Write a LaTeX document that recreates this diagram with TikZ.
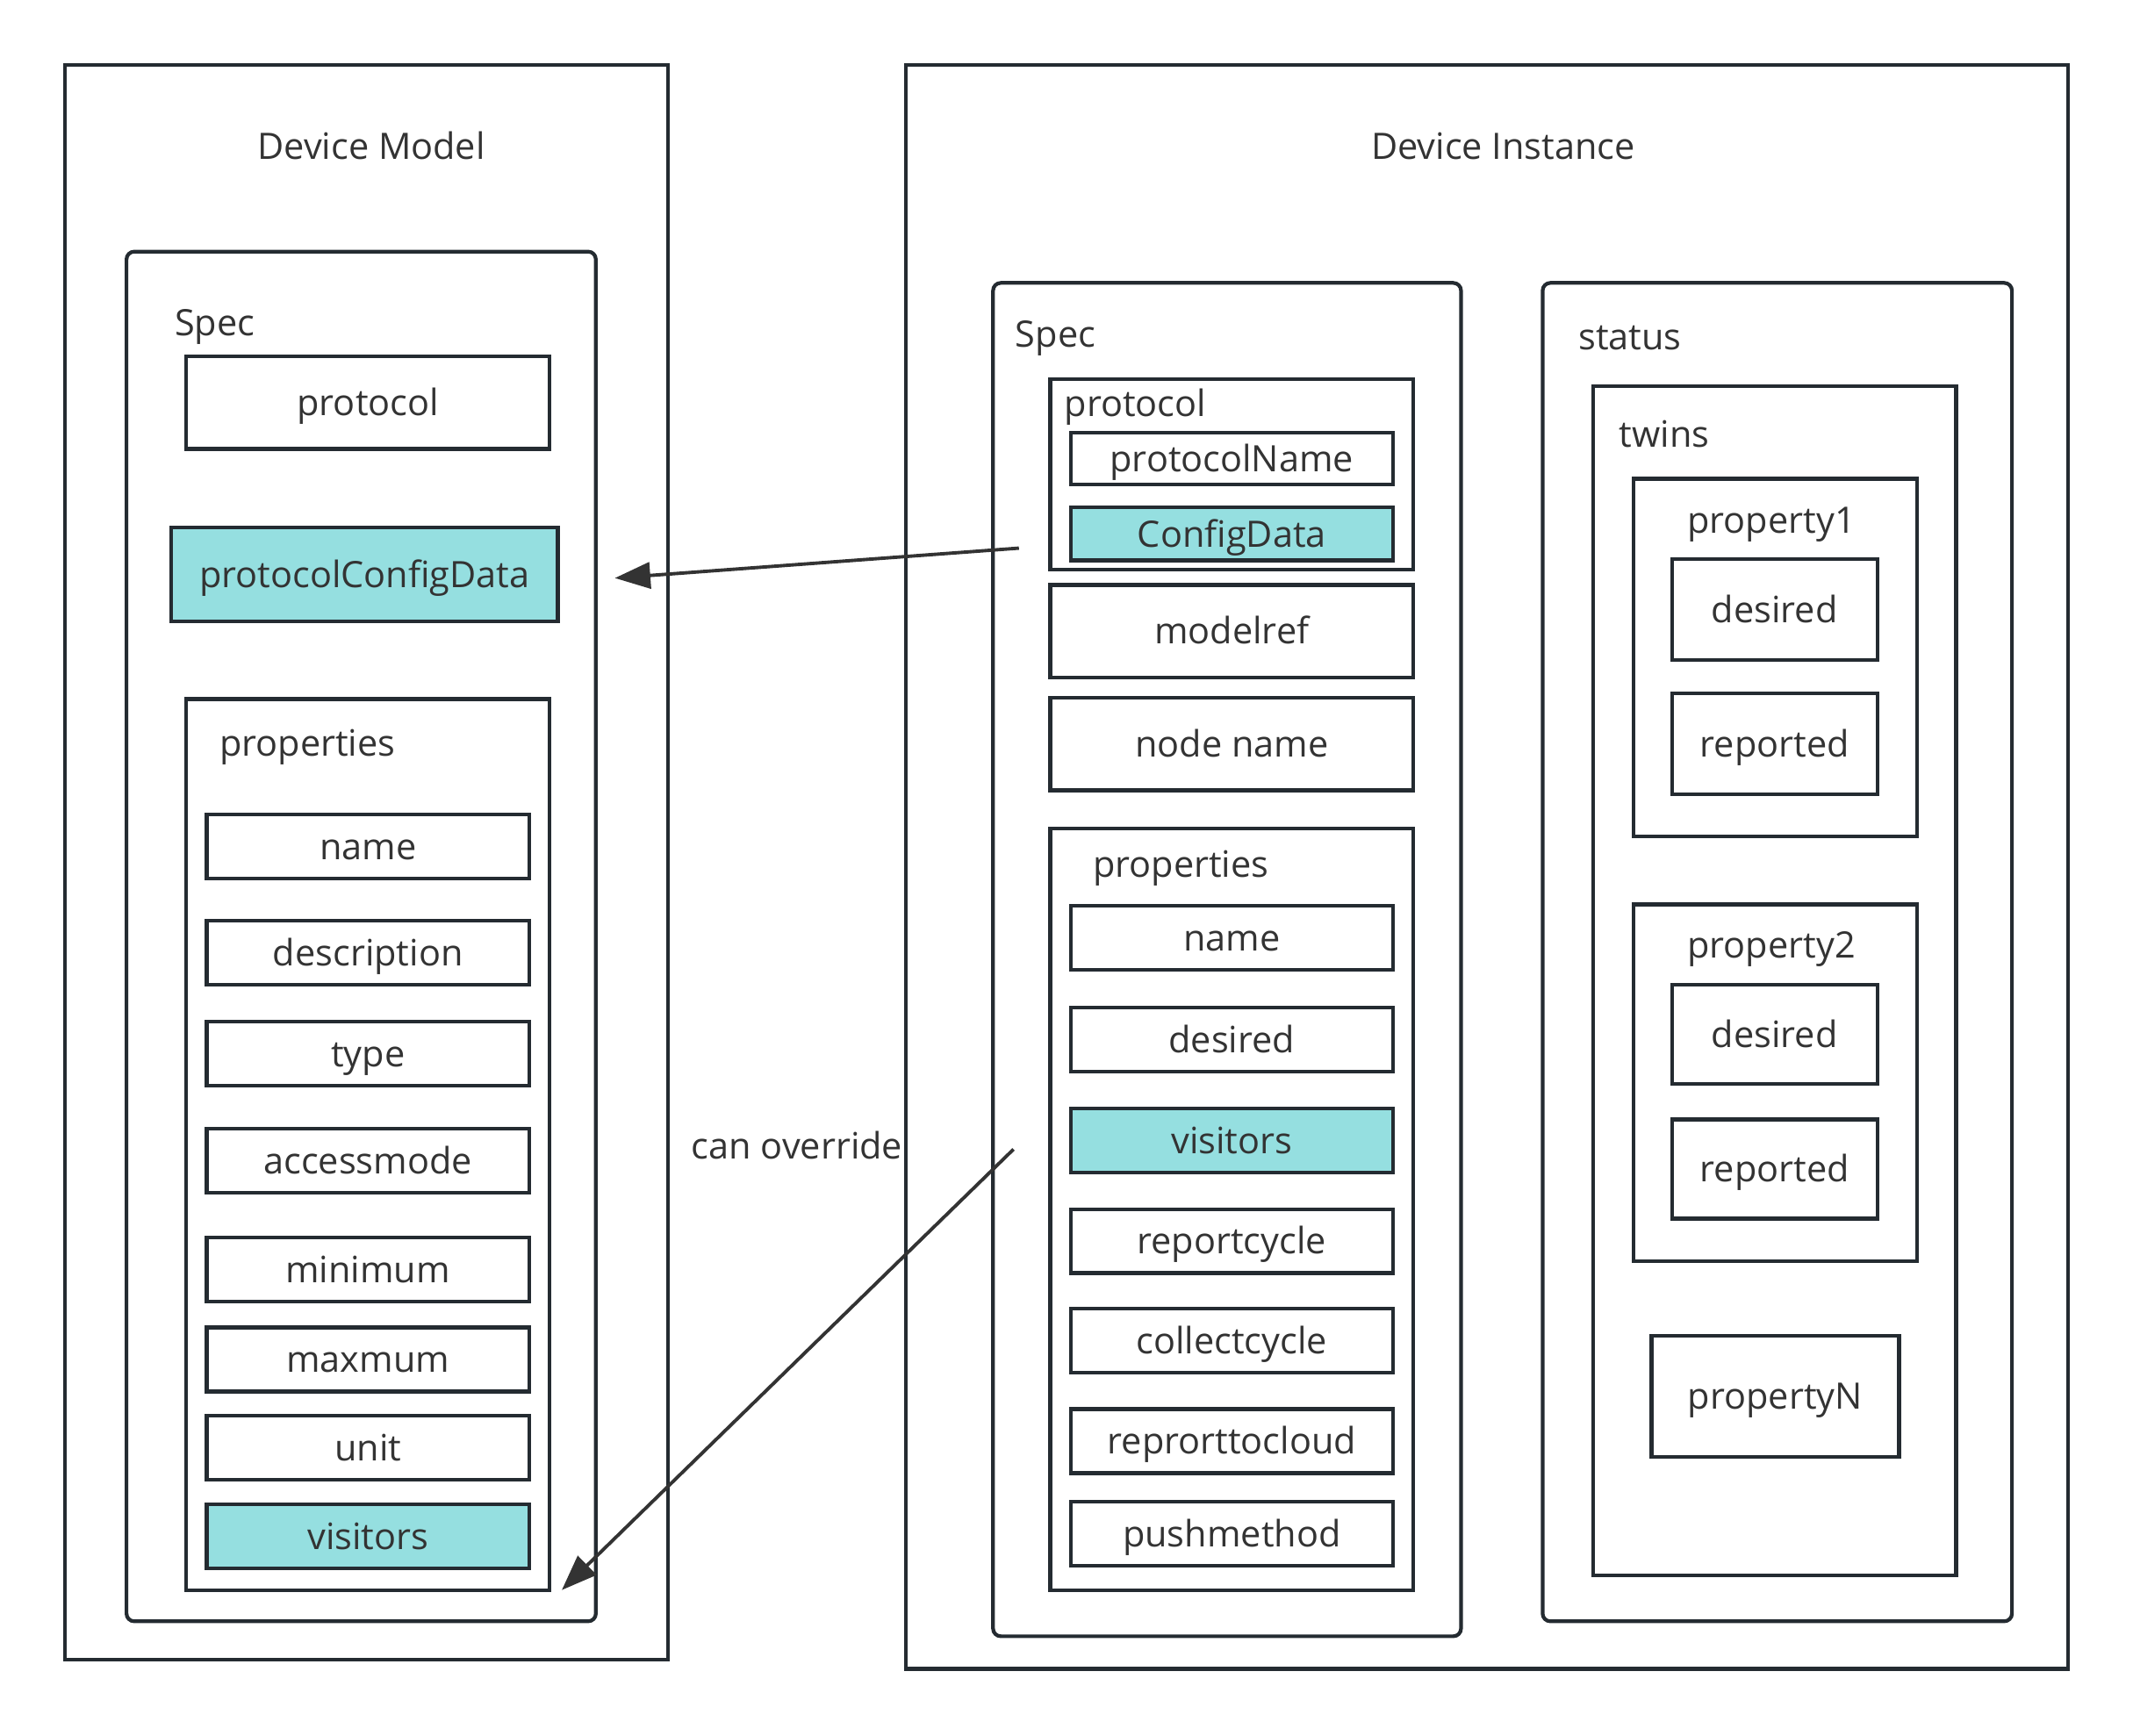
\documentclass[tikz,border=0pt]{standalone}
\usepackage{fontspec}
\setmainfont{Open Sans}
\usetikzlibrary{arrows.meta,fit}
\definecolor{edge}{HTML}{242B31}
\definecolor{cyanfill}{HTML}{95DFE0}
\definecolor{ink}{HTML}{333333}

\begin{document}
\begin{tikzpicture}[x=0.0155cm,y=-0.0155cm,
  every node/.style={font=\fontsize{11.8}{14}\selectfont, text=ink},
  frame/.style={draw=edge, line width=1.2pt, inner sep=0pt, outer sep=0pt},
  card/.style={frame, rounded corners=2.5pt},
  fldtxt/.style={inner sep=0pt, text height=0.95em, text depth=0.11em},
  fld/.style={frame, label={[fldtxt]center:#1}},
  tag/.style={anchor=base west, inner sep=0pt},
  ptr/.style={draw=ink, line width=1.1pt, -{Triangle[length=11.5pt,width=8.5pt]}}]
\useasboundingbox (0,0) rectangle (1568,1276);

%% device model
\node[frame, fit={(48,48)(491,1220)}] (model) {};
\node[anchor=base] (modelT) at (273,117) {Device Model};
\node[card, fit={(93,185)(438,1192)}] (mspec) {};
\node[tag] (mspecT) at (128,247) {Spec};
\node[fld=protocol, fit={(137,262)(404,330)}] (mproto) {};
\node[fld=protocolConfigData, fill=cyanfill, fit={(126,388)(410,457)}] (mcfg) {};
\node[frame, fit={(137,514)(404,1169)}] (mprops) {};
\node[tag] (mpropsT) at (161,556) {properties};
\foreach \nm/\ya/\fc [count=\i] in {name/599/white, description/677/white, type/751/white,
    accessmode/830/white, minimum/910/white, maxmum/976/white, unit/1041/white, visitors/1106/cyanfill}
  \node[fld=\nm, fill=\fc, fit={(152,\ya)(389,\ya+47)}] (mf\i) {};

%% device instance
\node[frame, fit={(666,48)(1520,1227)}] (inst) {};
\node[anchor=base] (instT) at (1105,117) {Device Instance};
\node[card, fit={(730,208)(1074,1203)}] (ispec) {};
\node[tag] (ispecT) at (746,255) {Spec};
\node[frame, fit={(772,279)(1039,419)}] (iproto) {};
\node[tag] (iprotoT) at (782,306) {protocol};
\node[fld=protocolName, fit={(787,318)(1024,356)}] (iname) {};
\node[fld=ConfigData, fill=cyanfill, fit={(787,373)(1024,412)}] (icfg) {};
\node[fld=modelref, fit={(772,430)(1039,498)}] (iref) {};
\node[fld=node name, fit={(772,513)(1039,581)}] (inode) {};
\node[frame, fit={(772,609)(1039,1169)}] (iprops) {};
\node[tag] (ipropsT) at (803,645) {properties};
\foreach \nm/\ya/\fc [count=\i] in {name/666/white, desired/741/white, visitors/815/cyanfill,
    reportcycle/889/white, collectcycle/962/white, reprorttocloud/1036/white, pushmethod/1104/white}
  \node[fld=\nm, fill=\fc, fit={(787,\ya)(1024,\ya+47)}] (if\i) {};

%% status
\node[card, fit={(1134,208)(1479,1192)}] (stat) {};
\node[tag] (statT) at (1160,257) {status};
\node[frame, fit={(1171,284)(1438,1158)}] (twins) {};
\node[tag] (twinsT) at (1190,329) {twins};
\node[frame, fit={(1201,352)(1409,615)}] (prop1) {};
\node[tag] (prop1T) at (1240,392) {property1};
\node[fld=desired, fit={(1229,411)(1380,485)}] (p1des) {};
\node[fld=reported, fit={(1229,510)(1380,584)}] (p1rep) {};
\node[frame, fit={(1201,665)(1409,927)}] (prop2) {};
\node[tag] (prop2T) at (1240,704) {property2};
\node[fld=desired, fit={(1229,724)(1380,797)}] (p2des) {};
\node[fld=reported, fit={(1229,823)(1380,896)}] (p2rep) {};
\node[fld=propertyN, fit={(1214,982)(1396,1071)}] (propN) {};

%% arrows
\coordinate (cfgFrom) at (749,403);
\coordinate (cfgTo) at (452,425);
\coordinate (ovrFrom) at (745,845);
\coordinate (ovrTo) at (413,1169);
\draw[ptr] (cfgFrom) -- (cfgTo);
\draw[ptr] (ovrFrom) -- (ovrTo);
\node[tag] (ovrT) at (508,852) {can override};
\end{tikzpicture}
\end{document}
